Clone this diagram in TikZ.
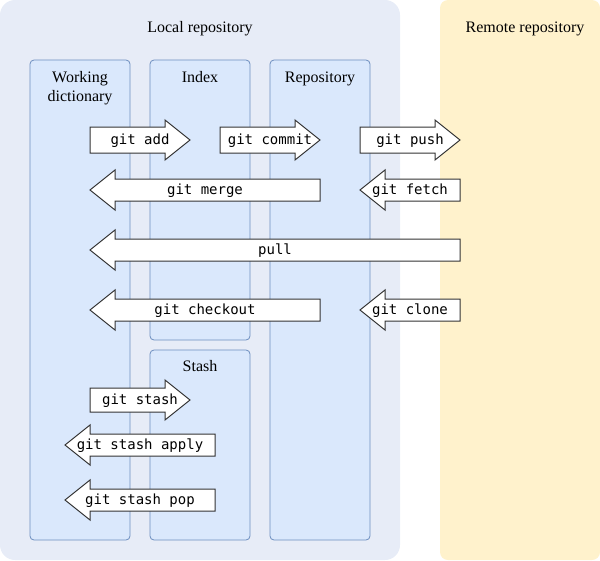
\documentclass[tikz,border=0pt]{standalone}
\usepackage{fontspec}
\setmainfont{Liberation Serif}
\newfontfamily\monof{DejaVu Sans Mono}
\definecolor{localbg}{HTML}{E7ECF7}
\definecolor{boxfill}{HTML}{DAE8FC}
\definecolor{boxline}{HTML}{6C8EBF}
\definecolor{remotebg}{HTML}{FFF2CC}
\definecolor{arrline}{HTML}{333333}
\tikzset{
  areabox/.style={fill=localbg, draw=none, rounded corners=15pt},
  remotebox/.style={fill=remotebg, draw=none, rounded corners=8pt},
  lanebox/.style={fill=boxfill, draw=boxline, line width=0.8pt, rounded corners=4pt},
  arrshape/.style={fill=white, draw=arrline, line width=1pt, line join=miter},
  title/.style={font=\fontsize{16}{19}\selectfont, anchor=base, inner sep=0pt, align=center},
  mono/.style={font=\monof\fontsize{14}{16}\selectfont, inner sep=0pt, anchor=base},
}
% right-pointing arrow: name, x1, x2, yc, half body, text
\newcommand\rarr[6]{%
  \draw[arrshape] (#2,#4-#5) -- (#3-25,#4-#5) -- (#3-25,#4-20) -- (#3,#4)
    -- (#3-25,#4+20) -- (#3-25,#4+#5) -- (#2,#4+#5) -- cycle;
  \node[mono] (#1) at ({(#2+#3)/2},#4+4.5) {#6};}
% left-pointing arrow: name, x1 (tip), x2, yc, half body, text
\newcommand\larr[6]{%
  \draw[arrshape] (#3,#4-#5) -- (#2+25,#4-#5) -- (#2+25,#4-20) -- (#2,#4)
    -- (#2+25,#4+20) -- (#2+25,#4+#5) -- (#3,#4+#5) -- cycle;
  \node[mono] (#1) at ({(#2+#3)/2},#4+4.5) {#6};}
\begin{document}
\begin{tikzpicture}[x=1pt,y=-1pt]
\useasboundingbox (0,0) rectangle (600,560);
% areas
\path[areabox] (0,0) rectangle (400,560);
\path[remotebox] (440,0) rectangle (600,560);
\node[title] (localt) at (200,32) {Local repository};
\node[title] (remotet) at (525,32) {Remote repository};
% lanes
\draw[lanebox] (30,60) rectangle (130,540);
\draw[lanebox] (150,60) rectangle (250,340);
\draw[lanebox] (150,350) rectangle (250,540);
\draw[lanebox] (270,60) rectangle (370,540);
\node[title] (workt) at (80,82) {Working};
\node[title] (dictt) at (80,101) {dictionary};
\node[title] (indext) at (200,82) {Index};
\node[title] (repot) at (320,82) {Repository};
\node[title] (stasht) at (200,371) {Stash};
% arrows
\rarr{add}{90}{190}{140}{13}{git add}
\rarr{commit}{220}{320}{140}{13}{git commit}
\rarr{push}{360}{460}{140}{13}{git push}
\larr{merge}{90}{320}{190}{11}{git merge}
\larr{fetch}{360}{460}{190}{11}{git fetch}
\larr{pull}{90}{460}{250}{11}{pull}
\larr{checkout}{90}{320}{310}{11}{git checkout}
\larr{clone}{360}{460}{310}{11}{git clone}
\rarr{stash}{90}{190}{400}{12}{git stash}
\larr{apply}{65}{215}{445}{11}{git stash apply}
\larr{pop}{65}{215}{500}{11}{git stash pop}
\end{tikzpicture}
\end{document}
